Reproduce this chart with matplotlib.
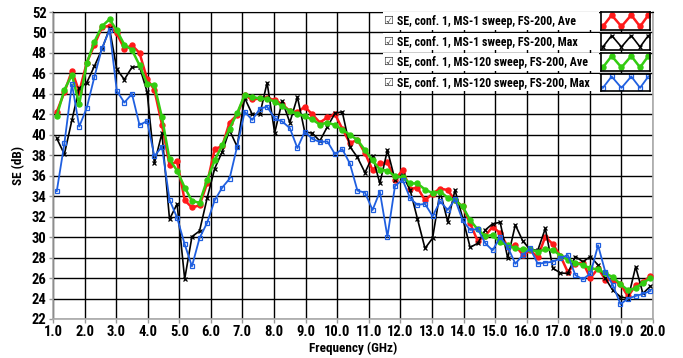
import numpy as np
import matplotlib
matplotlib.use("Agg")
import matplotlib.pyplot as plt
from matplotlib.patches import Rectangle

plt.rcParams["font.family"] = ["Roboto Condensed", "DejaVu Sans"]
plt.rcParams["font.weight"] = "bold"
plt.rcParams["axes.labelweight"] = "bold"

# frequency points (GHz)
freq = [1.12, 1.36, 1.60, 1.83, 2.07, 2.31, 2.55, 2.79, 3.02, 3.26,
        3.50, 3.74, 3.98, 4.21, 4.45, 4.69, 4.93, 5.17, 5.40, 5.64,
        5.88, 6.12, 6.36, 6.59, 6.83, 7.07, 7.31, 7.55, 7.78, 8.02,
        8.26, 8.50, 8.74, 8.97, 9.21, 9.45, 9.69, 9.93, 10.16, 10.40,
        10.64, 10.88, 11.12, 11.35, 11.59, 11.83, 12.07, 12.31, 12.54, 12.78,
        13.02, 13.26, 13.50, 13.73, 13.97, 14.21, 14.45, 14.69, 14.92, 15.16,
        15.40, 15.64, 15.88, 16.11, 16.35, 16.59, 16.83, 17.07, 17.30, 17.54,
        17.78, 18.02, 18.26, 18.49, 18.73, 18.97, 19.21, 19.45, 19.68, 19.92]

# SE (dB)
ms1_ave = [42.25, 44.15, 46.27, 44.2, 47.05, 48.77, 50.5, 50.66, 49.9, 48.4,
           48.75, 48.0, 45.45, 44.4, 41.0, 37.05, 37.4, 33.6, 32.9, 33.1,
           35.25, 38.6, 38.9, 41.2, 41.95, 43.85, 43.45, 43.55, 43.6, 43.4,
           43.0, 42.3, 42.2, 42.75, 42.0, 41.2, 41.7, 42.0, 40.6, 39.2,
           39.5, 38.2, 36.55, 37.2, 37.3, 35.6, 36.55, 34.7, 34.85, 33.6,
           34.25, 34.75, 34.6, 33.6, 33.0, 31.35, 29.6, 30.15, 31.0, 30.4,
           29.05, 29.2, 28.25, 28.7, 28.05, 30.05, 29.3, 28.15, 26.6, 27.4,
           27.5, 26.0, 26.95, 25.85, 25.8, 25.4, 24.2, 25.3, 25.6, 26.2]

ms1_max = [39.65, 38.1, 41.45, 44.55, 45.1, 46.7, 48.35, 50.4, 46.4, 45.4,
           46.6, 46.65, 44.2, 37.2, 40.15, 31.75, 33.25, 25.9, 30.05, 30.6,
           33.8, 36.7, 38.35, 40.45, 38.85, 43.6, 42.0, 42.0, 45.1, 40.2,
           43.3, 41.2, 43.7, 40.3, 40.15, 39.4, 40.8, 42.1, 42.25, 38.85,
           37.8, 36.3, 37.9, 35.25, 38.5, 35.6, 36.1, 34.6, 31.8, 28.9,
           29.9, 34.45, 31.5, 34.6, 31.9, 29.0, 29.4, 30.7, 31.3, 31.45,
           27.95, 31.2, 29.6, 28.8, 28.7, 30.85, 26.95, 26.5, 26.45, 28.1,
           27.6, 28.1, 27.27, 25.97, 24.8, 24.17, 24.0, 27.1, 24.5, 25.2]

ms120_ave = [41.85, 44.4, 45.85, 43.0, 47.0, 49.1, 50.6, 51.3, 50.2, 48.8,
             48.3, 46.8, 45.0, 44.85, 41.7, 37.6, 36.5, 34.85, 33.55, 33.35,
             35.6, 37.5, 39.0, 40.6, 42.1, 43.9, 43.7, 43.55, 43.5, 43.25,
             42.8, 42.35, 42.05, 41.8, 41.5, 41.0, 41.2, 40.95, 40.5, 40.0,
             39.5, 38.5, 37.5, 36.6, 36.5, 35.95, 35.85, 35.25, 35.25, 34.65,
             34.3, 34.45, 33.85, 33.6, 33.0, 31.65, 30.75, 30.1, 30.2, 29.5,
             29.2, 28.9, 28.8, 28.8, 28.57, 28.8, 28.75, 28.2, 27.8, 27.5,
             27.27, 26.95, 26.85, 26.45, 26.1, 25.4, 24.8, 25.0, 25.55, 25.97]

ms120_max = [34.5, 39.15, 44.95, 40.8, 42.65, 45.65, 48.45, 50.25, 44.3, 43.15,
             44.0, 40.95, 41.35, 37.9, 38.85, 33.65, 31.9, 29.3, 27.15, 29.9,
             31.4, 33.6, 34.85, 35.7, 38.85, 42.25, 41.45, 42.55, 42.75, 41.6,
             41.3, 40.65, 38.7, 40.3, 39.6, 39.3, 39.35, 38.1, 38.6, 37.2,
             34.55, 34.35, 32.65, 34.45, 30.05, 35.0, 35.6, 33.8, 33.15, 33.25,
             32.05, 33.5, 32.65, 33.7, 31.65, 30.7, 30.8, 29.4, 28.7, 30.0,
             29.05, 27.4, 28.25, 28.9, 27.4, 27.5, 27.6, 27.95, 28.25, 26.3,
             25.87, 26.45, 29.2, 26.6, 25.3, 23.45, 24.0, 24.25, 24.45, 24.75]

labels = ["SE, conf. 1, MS-1 sweep, FS-200, Ave",
          "SE, conf. 1, MS-1 sweep, FS-200, Max",
          "SE, conf. 1, MS-120 sweep, FS-200, Ave",
          "SE, conf. 1, MS-120 sweep, FS-200, Max"]

styles = [
    dict(color="#ff1a1a", lw=1.8, marker="o", ms=3.6, mfc="#ff1a1a", mec="#ff1a1a"),
    dict(color="black", lw=1.2, marker="x", ms=3.0, mew=0.9),
    dict(color="#33cc11", lw=1.8, marker="o", ms=3.6, mfc="#33cc11", mec="#33cc11"),
    dict(color="#1f5fe0", lw=1.3, marker="s", ms=3.2, mfc="none", mec="#1f5fe0", mew=0.9),
]
series = [ms1_ave, ms1_max, ms120_ave, ms120_max]
draw_order = [3, 1, 2, 0]

fig = plt.figure(figsize=(6.83, 3.58), dpi=100)
ax = fig.add_axes([53 / 683, 39 / 358, 600 / 683, 307 / 358])

for i in draw_order:
    ax.plot(freq, series[i], zorder=3 + i, **styles[i])

ax.set_xlim(1.0, 20.0)
ax.set_ylim(22, 52)
ax.set_xticks(np.arange(1, 21, 1))
ax.set_yticks(np.arange(22, 53, 2))
ax.xaxis.set_major_formatter(plt.FormatStrFormatter("%.1f"))
ax.grid(True, color="black", lw=1.0, zorder=1)
ax.set_axisbelow(True)
ax.tick_params(length=3, width=1, color="#999999", pad=1.5, labelsize=10.5)
for lab in ax.get_xticklabels() + ax.get_yticklabels():
    lab.set_fontweight("bold")
for s in ["left", "bottom", "right"]:
    ax.spines[s].set_color("#aaaaaa")
    ax.spines[s].set_linewidth(1.2)
ax.spines["top"].set_color("black")

ax.set_xlabel("Frequency (GHz)", fontsize=9.5, fontweight="bold", labelpad=2)
ax.set_ylabel("SE (dB)", fontsize=9.5, fontweight="bold", labelpad=5)

# legend rows (drawn by hand to match the original layout)
row_y = [51.1, 49.1, 47.1, 45.1]
for k in range(4):
    yc = row_y[k]
    ax.add_patch(Rectangle((11.45, yc - 0.86), 6.85, 1.72, facecolor="white",
                           edgecolor="none", zorder=10))
    ax.text(11.6, yc, "\u2611", fontsize=8, family=["DejaVu Sans"], fontweight="normal",
            va="center", ha="center", zorder=11, color="#333333")
    ax.text(11.88, yc - 0.05, labels[k], fontsize=8.6, fontweight="bold",
            va="center", ha="left", zorder=11)
    ins = ax.inset_axes([18.35, yc - 0.86, 1.55, 1.72], transform=ax.transData, zorder=12)
    ins.plot([0.04, 0.22, 0.42, 0.62, 0.8, 0.97], [0.2, 0.85, 0.2, 0.85, 0.2, 0.85],
             **styles[k])
    ins.set_xlim(0, 1)
    ins.set_ylim(0, 1)
    ins.set_xticks([])
    ins.set_yticks([])
    for s in ins.spines.values():
        s.set_color("black")
        s.set_linewidth(1.2)

fig.savefig("out.png", dpi=100)
